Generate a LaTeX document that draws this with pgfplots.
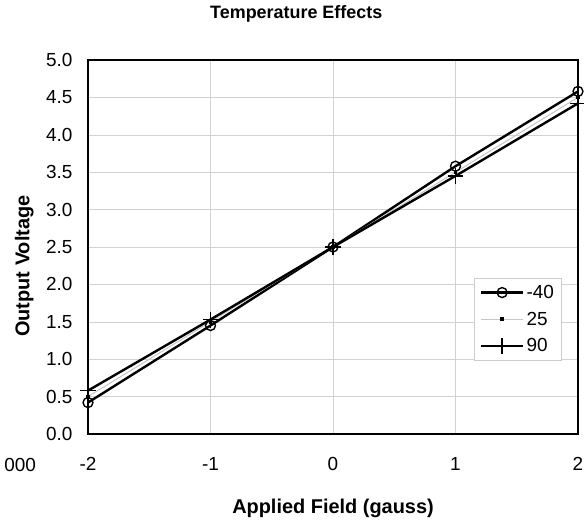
\documentclass[border=0pt]{standalone}
\usepackage{pgfplots}
\pgfplotsset{compat=1.18}
\usepackage{fontspec}
\setmainfont{Liberation Sans}

\begin{document}
\begin{tikzpicture}
\begin{axis}[
    name=ax,
    scale only axis,
    width=490bp, height=374bp,
    xmin=-2, xmax=2, ymin=0, ymax=5,
    xtick={-2,-1,0,1,2},
    ytick={0,0.5,1,1.5,2,2.5,3,3.5,4,4.5,5},
    yticklabel style={/pgf/number format/fixed, /pgf/number format/fixed zerofill, /pgf/number format/precision=1},
    /pgf/number format/assume math mode=true,
    ticklabel style={font=\fontsize{19}{22}\selectfont},
    xticklabel style={yshift=-20bp},
    yticklabel style={xshift=-12bp},
    major tick length=0pt,
    grid=major,
    grid style={gray!35, line width=0.5pt},
    axis line style={black, line width=1.4pt},
    title={Temperature Effects},
    title style={font=\bfseries\fontsize{18}{20}\selectfont, anchor=center, at={(axis description cs:0.425,1.107)}},
    xlabel={Applied Field (gauss)},
    xlabel style={font=\bfseries\fontsize{20}{22}\selectfont, anchor=center, at={(axis description cs:0.5,-0.198)}},
    ylabel={Output Voltage},
    ylabel style={font=\bfseries\fontsize{20}{22}\selectfont, anchor=center, at={(axis description cs:-0.13,0.449)}},
    legend style={at={(axis description cs:0.9656,0.417)}, anchor=north east, draw=gray!40, font=\fontsize{19}{22}\selectfont, row sep=8bp, inner xsep=5bp, inner ysep=5bp},
    legend cell align=left,
    legend image code/.code={\draw[mark repeat=2,mark phase=2,#1] plot coordinates {(0cm,0cm) (0.75cm,0cm) (1.5cm,0cm)};},
    clip=false,
]
\addplot[black, line width=2.4pt, mark=o, mark size=5pt, mark options={fill=white, line width=1.4pt}]
    coordinates {(-2,0.42) (-1,1.45) (0,2.5) (1,3.58) (2,4.58)};
\addlegendentry{-40}
\addplot[gray!45, line width=1pt, mark=square*, mark size=1.5pt, mark options={black}]
    coordinates {(-2,0.5) (-1,1.5) (0,2.5) (1,3.5) (2,4.5)};
\addlegendentry{25}
\addplot[black, line width=2.4pt, mark=+, mark size=8pt, mark options={line width=1.6pt}]
    coordinates {(-2,0.58) (-1,1.53) (0,2.5) (1,3.45) (2,4.42)};
\addlegendentry{90}
\node[anchor=west, font=\fontsize{19}{22}\selectfont] at (axis description cs:-0.178,-0.083) {000};
\end{axis}
\pgfresetboundingbox
\path[use as bounding box] ([xshift=-88bp,yshift=-89bp]ax.south west) rectangle ([xshift=6bp,yshift=60bp]ax.north east);
\end{tikzpicture}
\end{document}
